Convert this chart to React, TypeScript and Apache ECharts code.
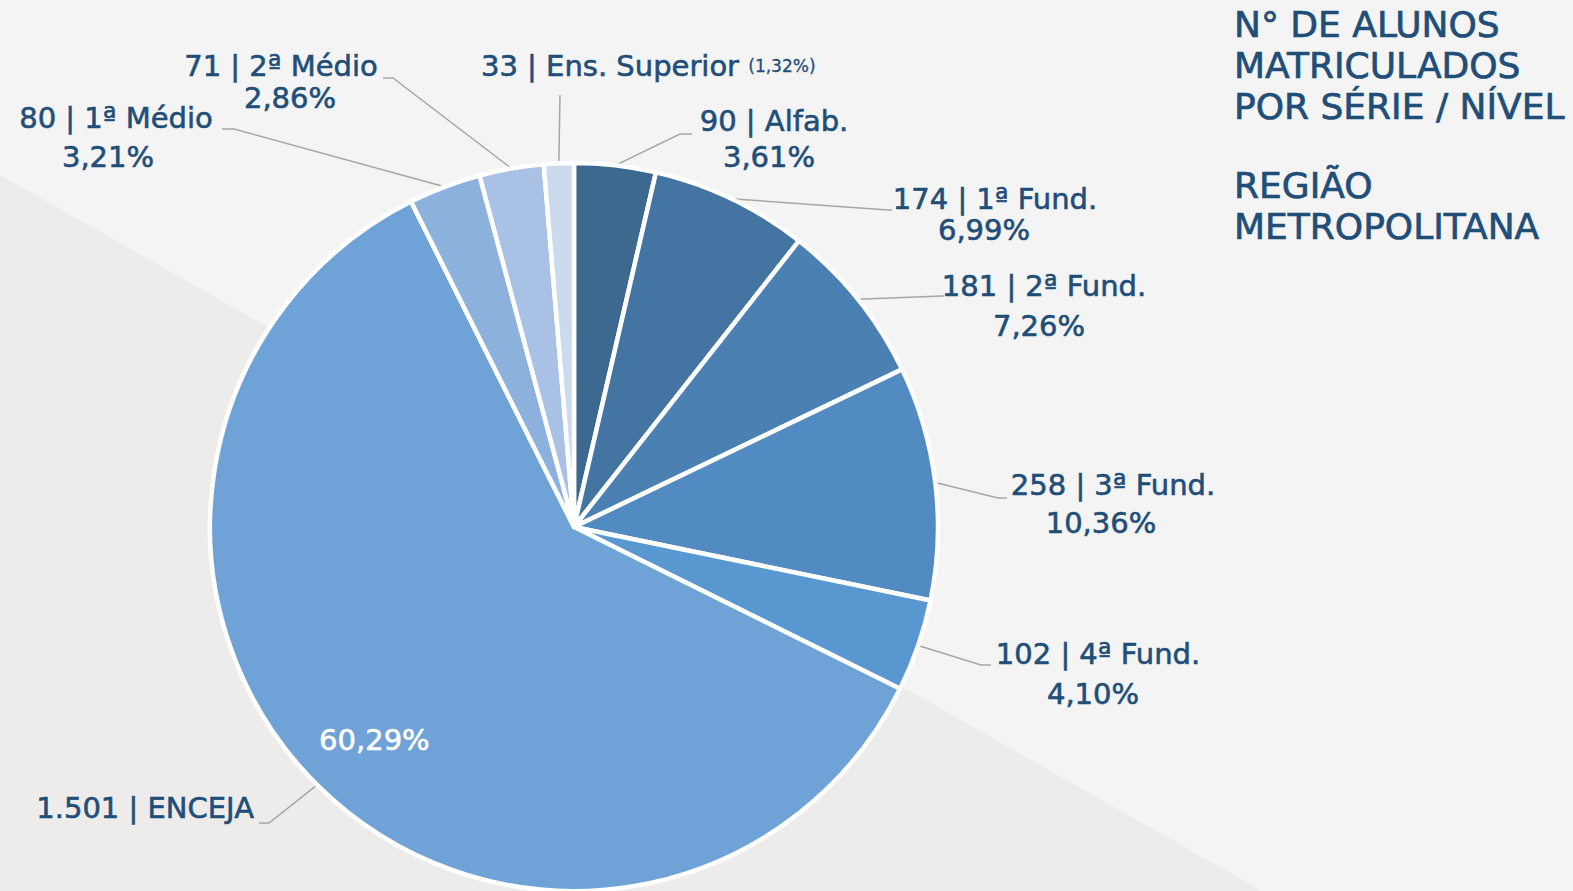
import React, { useEffect, useRef } from "react";
import * as echarts from "echarts";

// ---- data ----
const categories = ["Alfab.", "1ª Fund.", "2ª Fund.", "3ª Fund.", "4ª Fund.", "ENCEJA", "1ª Médio", "2ª Médio", "Ens. Superior"];
const countLabels = ["90", "174", "181", "258", "102", "1.501", "80", "71", "33"];
const values = [90, 174, 181, 258, 102, 1501, 80, 71, 33];
const percentLabels = ["3,61%", "6,99%", "7,26%", "10,36%", "4,10%", "60,29%", "3,21%", "2,86%", "1,32%"];
const sliceColors = ["#3d6990", "#4474a2", "#4a80b2", "#528bc1", "#5897d0", "#6fa2d7", "#8db1dd", "#a8c1e5", "#ccdaee"];
const titleTop = ["N° DE ALUNOS", "MATRICULADOS", "POR SÉRIE / NÍVEL"];
const titleBottom = ["REGIÃO", "METROPOLITANA"];

// ---- layout (positions, not data) ----
const CX = 574;
const CY = 527;
const R = 364;
const LH = 38;
const FONT = "DejaVu Sans";
const TEXT_COLOR = "#1f4e79";

type Place = { x: number; y: number; align: string; elbow: number[]; end: number[]; gap: number; dx2: number };
const labelPlacement: Place[] = [
  { x: 774, y: 121, align: "center", elbow: [680, 134], end: [692, 134], gap: 36, dx2: -5 },
  { x: 995, y: 199, align: "center", elbow: [888, 210], end: [892, 210], gap: 31, dx2: -11 },
  { x: 1044, y: 286, align: "center", elbow: [942, 296], end: [944, 296], gap: 40, dx2: -5 },
  { x: 1113, y: 485, align: "center", elbow: [998, 498], end: [1007, 498], gap: 38, dx2: -12 },
  { x: 1098, y: 654, align: "center", elbow: [981, 665], end: [991, 665], gap: 40, dx2: -5 },
  { x: 254, y: 808, align: "right", elbow: [269, 823], end: [259, 823], gap: 0, dx2: 0 },
  { x: 116, y: 118, align: "center", elbow: [234, 129], end: [222, 129], gap: 39, dx2: -8 },
  { x: 281, y: 66, align: "center", elbow: [393, 78], end: [383, 78], gap: 32, dx2: 9 },
  { x: 481, y: 66, align: "left", elbow: [560, 95], end: [560, 95], gap: 0, dx2: 0 },
];

const boldish = { textBorderColor: TEXT_COLOR, textBorderWidth: 0.6 };

export default function App() {
  const ref = useRef<HTMLDivElement>(null);
  useEffect(() => {
    if (!ref.current) return;
    const chart = echarts.init(ref.current, undefined, { renderer: "svg" });
    const total = values.reduce((a, b) => a + b, 0);
    let cum = 0;
    const mids = values.map((v) => {
      const m = ((cum + v / 2) / total) * Math.PI * 2;
      cum += v;
      return m;
    });
    const data = values.map((v, i) => ({ name: categories[i], value: v, itemStyle: { color: sliceColors[i] } }));
    const rich: any = {
      a: { fontSize: 29, lineHeight: LH, color: TEXT_COLOR, fontFamily: FONT, ...boldish },
      s: { fontSize: 17, lineHeight: LH, color: TEXT_COLOR, fontFamily: FONT, textBorderColor: TEXT_COLOR, textBorderWidth: 0.3 },
    };
    labelPlacement.forEach((p, i) => {
      const d = p.dx2;
      rich["b" + i] = {
        fontSize: 29,
        lineHeight: Math.max(2 * p.gap - LH, 10),
        color: TEXT_COLOR,
        fontFamily: FONT,
        padding: d < 0 ? [0, -2 * d, 0, 0] : [0, 0, 0, 2 * d],
        ...boldish,
      };
    });
    const titleStyle = {
      fontSize: 36,
      lineHeight: 41,
      fontWeight: "normal",
      color: TEXT_COLOR,
      fontFamily: FONT,
      textBorderColor: TEXT_COLOR,
      textBorderWidth: 0.7,
    };
    chart.setOption({
      animation: false,
      backgroundColor: "#f4f4f4",
      title: [
        { text: titleTop.join("\n"), left: 1234, top: 4, padding: 0, textStyle: titleStyle },
        { text: titleBottom.join("\n"), left: 1234, top: 165, padding: 0, textStyle: titleStyle },
      ],
      graphic: [
        {
          type: "polygon",
          z: -10,
          silent: true,
          shape: { points: [[0, 175], [1262, 891], [0, 891]] },
          style: { fill: "#edecea" },
        },
      ],
      series: [
        {
          type: "pie",
          center: [CX, CY],
          radius: [0, R],
          startAngle: 90,
          clockwise: true,
          avoidLabelOverlap: false,
          silent: true,
          data,
          itemStyle: { borderColor: "#ffffff", borderWidth: 4.5 },
          label: {
            show: true,
            position: "outside",
            color: TEXT_COLOR,
            fontFamily: FONT,
            formatter: (p: any) => {
              const i = p.dataIndex;
              if (i === 5) return `{a|${countLabels[i]} | ${categories[i]}}`;
              if (i === 8) return `{a|${countLabels[i]} | ${categories[i]} }{s|(${percentLabels[i]})}`;
              return `{a|${countLabels[i]} | ${categories[i]}}\n{b${i}|${percentLabels[i]}}`;
            },
            rich,
          },
          labelLine: { show: true, length: 20, length2: 10, lineStyle: { color: "#a6a6a6", width: 1.5 } },
          labelLayout: (params: any) => {
            const i = params.dataIndex;
            const p = labelPlacement[i];
            const m = mids[i];
            const start = [CX + R * Math.sin(m), CY - R * Math.cos(m)];
            return {
              x: p.x,
              y: p.y - LH / 2,
              align: p.align,
              verticalAlign: "top",
              labelLinePoints: [start, p.elbow, p.end],
            };
          },
        },
        {
          type: "pie",
          center: [CX, CY],
          radius: [R * 0.6, R],
          startAngle: 90,
          clockwise: true,
          silent: true,
          avoidLabelOverlap: false,
          data: values.map((v, i) => ({ name: categories[i], value: v })),
          itemStyle: { color: "rgba(0,0,0,0)", borderWidth: 0 },
          label: {
            show: true,
            position: "inside",
            formatter: (p: any) => (p.dataIndex === 5 ? percentLabels[5] : ""),
            color: "#ffffff",
            fontSize: 29,
            fontFamily: FONT,
            textBorderColor: "#ffffff",
            textBorderWidth: 0.6,
          },
          labelLayout: (params: any) => (params.dataIndex === 5 ? { dx: 8, dy: 5 } : {}),
          labelLine: { show: false },
        },
      ],
    });
    return () => chart.dispose();
  }, []);
  return <div ref={ref} style={{ position: "fixed", left: 0, top: 0, width: 1573, height: 891 }} />;
}
